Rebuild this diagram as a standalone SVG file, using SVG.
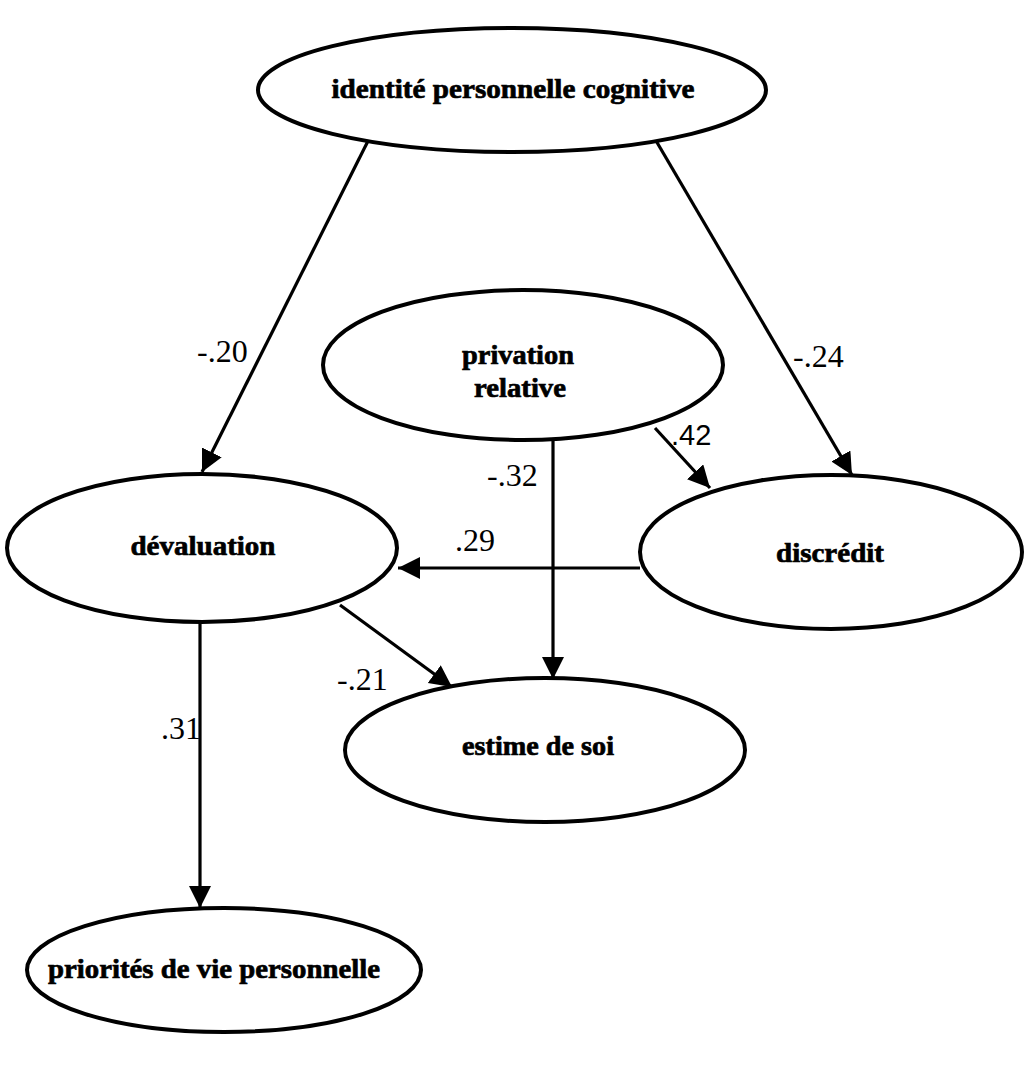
<svg xmlns="http://www.w3.org/2000/svg" width="1025" height="1090" viewBox="0 0 1025 1090">
<style>
.node ellipse{fill:#fff;stroke:#000;stroke-width:4}
.node text{font-family:"Liberation Serif",serif;font-weight:bold;font-size:28px;text-anchor:middle;fill:#000;stroke:#000;stroke-width:0.7}
.edge{stroke:#000;stroke-width:3.2;fill:none;marker-end:url(#ah)}
.lbl{font-family:"Liberation Serif",serif;font-size:32px;fill:#000}
.lbls{font-family:"Liberation Sans",sans-serif;font-size:29px;fill:#000}
</style>
<defs>
<marker id="ah" markerUnits="userSpaceOnUse" markerWidth="24" markerHeight="24" refX="22" refY="11" orient="auto">
<path d="M0,0 L22,11 L0,22 z" fill="#000"/>
</marker>
</defs>
<rect width="1025" height="1090" fill="#fff"/>
<g id="connectors">
<line class="edge" x1="372" y1="133" x2="202" y2="472"/>
<line class="edge" x1="655" y1="139" x2="852" y2="475"/>
<line class="edge" x1="655" y1="428" x2="710" y2="488"/>
<line class="edge" x1="553" y1="440" x2="553" y2="679"/>
<line class="edge" x1="640" y1="568" x2="398" y2="568"/>
<line class="edge" x1="340" y1="605" x2="452" y2="687"/>
<line class="edge" x1="200" y1="622" x2="200" y2="908"/>
<text class="lbl" x="197" y="362">-.20</text>
<text class="lbl" x="793" y="367">-.24</text>
<text class="lbls" x="671" y="445">.42</text>
<text class="lbl" x="487" y="486">-.32</text>
<text class="lbl" x="455" y="551">.29</text>
<text class="lbl" x="337" y="690">-.21</text>
<text class="lbl" x="161" y="739">.31</text>
</g>
<g id="n-identite" class="node">
<ellipse cx="512" cy="90" rx="254" ry="62"/>
<text x="513" y="98" textLength="363" lengthAdjust="spacingAndGlyphs">identité personnelle cognitive</text>
</g>
<g id="n-privation" class="node">
<ellipse cx="523" cy="365" rx="200" ry="75"/>
<text x="518" y="364" textLength="112" lengthAdjust="spacingAndGlyphs">privation</text>
<text x="520" y="397" textLength="92" lengthAdjust="spacingAndGlyphs">relative</text>
</g>
<g id="n-devaluation" class="node">
<ellipse cx="202" cy="548" rx="195" ry="74"/>
<text x="203" y="555" textLength="145" lengthAdjust="spacingAndGlyphs">dévaluation</text>
</g>
<g id="n-discredit" class="node">
<ellipse cx="831" cy="552" rx="191" ry="77"/>
<text x="830" y="562" textLength="108" lengthAdjust="spacingAndGlyphs">discrédit</text>
</g>
<g id="n-estime" class="node">
<ellipse cx="545" cy="750" rx="200" ry="72"/>
<text x="538" y="755" textLength="152" lengthAdjust="spacingAndGlyphs">estime de soi</text>
</g>
<g id="n-priorites" class="node">
<ellipse cx="224" cy="970" rx="197" ry="62"/>
<text x="214" y="978" textLength="332" lengthAdjust="spacingAndGlyphs">priorités de vie personnelle</text>
</g>
</svg>
